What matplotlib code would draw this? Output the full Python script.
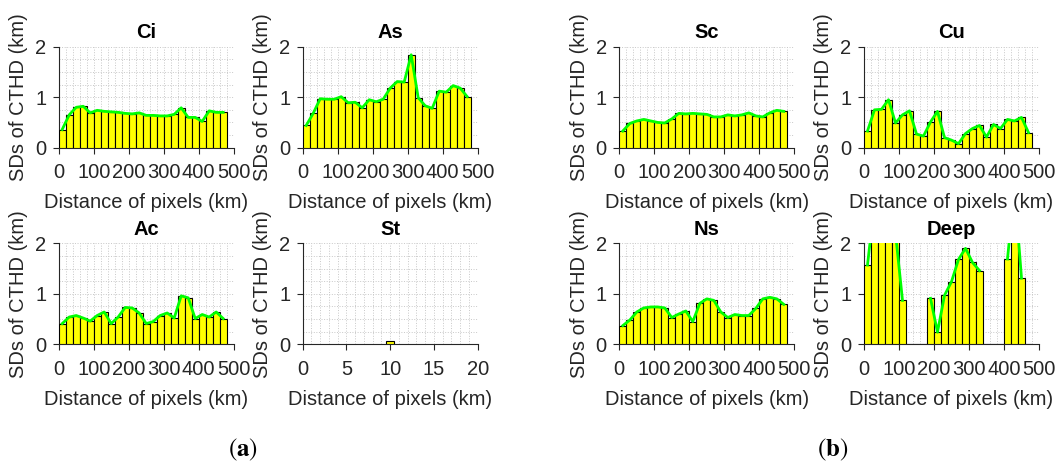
import numpy as np
import matplotlib.pyplot as plt
from matplotlib.ticker import MultipleLocator

plt.rcParams['font.family'] = ['Liberation Sans', 'DejaVu Sans']
plt.rcParams['mathtext.fontset'] = 'stix'

# bin centres (km)
dist = [10, 30, 50, 70, 90, 110, 130, 150, 170, 190, 210, 230,
        250, 270, 290, 310, 330, 350, 370, 390, 410, 430, 450, 470]

ci = [0.36, 0.65, 0.80, 0.82, 0.69, 0.74, 0.72, 0.71, 0.70, 0.68, 0.67, 0.69,
      0.64, 0.64, 0.63, 0.63, 0.66, 0.79, 0.60, 0.60, 0.52, 0.73, 0.70, 0.70]
as_ = [0.44, 0.68, 0.97, 0.96, 0.96, 1.01, 0.89, 0.90, 0.79, 0.95, 0.91, 0.96,
       1.18, 1.31, 1.30, 1.84, 0.99, 0.83, 0.78, 1.12, 1.10, 1.23, 1.18, 1.01]
ac = [0.41, 0.54, 0.57, 0.52, 0.46, 0.57, 0.64, 0.41, 0.54, 0.73, 0.72, 0.62,
      0.41, 0.45, 0.57, 0.62, 0.52, 0.96, 0.92, 0.51, 0.59, 0.54, 0.64, 0.51]
st_dist = [10]
st = [0.06]
sc = [0.33, 0.48, 0.53, 0.56, 0.53, 0.50, 0.49, 0.57, 0.68, 0.67, 0.68, 0.67,
      0.66, 0.61, 0.61, 0.65, 0.63, 0.65, 0.69, 0.63, 0.61, 0.69, 0.74, 0.72]
cu = [0.33, 0.75, 0.76, 0.95, 0.49, 0.65, 0.73, 0.27, 0.23, 0.51, 0.72, 0.20,
      0.15, 0.08, 0.28, 0.38, 0.44, 0.21, 0.46, 0.38, 0.56, 0.53, 0.60, 0.30]
ns = [0.37, 0.48, 0.64, 0.72, 0.74, 0.74, 0.72, 0.53, 0.60, 0.66, 0.45, 0.81,
      0.90, 0.87, 0.64, 0.53, 0.59, 0.57, 0.57, 0.71, 0.90, 0.93, 0.90, 0.79]
deep = [1.57, 2.80, 2.60, 2.40, 2.20, 0.87, 0, 0, 0, 0.91, 0.24, 0.97,
        1.24, 1.68, 1.90, 1.62, 1.46, 0, 0, 0, 1.69, 3.10, 1.31, 0]

W, H = 1060, 465
fig = plt.figure(figsize=(W / 100, H / 100), dpi=100)

# name, x, y, pixel box (left, top), xmax, bar width
panels = [
    ("Ci", dist, ci, (58.7, 46.7), 500, 20),
    ("As", dist, as_, (302.7, 46.7), 500, 20),
    ("Ac", dist, ac, (58.7, 243.3), 500, 20),
    ("St", st_dist, st, (302.7, 243.3), 20, 0.9),
    ("Sc", dist, sc, (619.3, 46.7), 500, 20),
    ("Cu", dist, cu, (864, 46.7), 500, 20),
    ("Ns", dist, ns, (619.3, 243.3), 500, 20),
    ("Deep", dist, deep, (864, 243.3), 500, 20),
]
aw, ah = 175, 101
dark = '#262626'

for name, x, y, (l, t), xmax, bw in panels:
    ax = fig.add_axes([l / W, 1 - (t + ah) / H, aw / W, ah / H])
    ax.bar(x, y, width=bw, color='#ffff00', edgecolor='black', linewidth=0.8, zorder=3)
    yl = np.array(y, dtype=float)
    yl[yl == 0] = np.nan
    ax.plot(x, yl, color='#00ff00', linewidth=2.0, zorder=4)
    ax.set_xlim(0, xmax)
    ax.set_ylim(0, 2)
    ax.set_yticks([0, 1, 2])
    if xmax == 20:
        ax.set_xticks([0, 5, 10, 15, 20])
        ax.xaxis.set_minor_locator(MultipleLocator(1))
    else:
        ax.set_xticks([0, 100, 200, 300, 400, 500])
        ax.xaxis.set_minor_locator(MultipleLocator(20))
    ax.yaxis.set_minor_locator(MultipleLocator(0.25))
    ax.grid(True, which='both', linestyle=':', color='#c8c8c8', linewidth=0.7, zorder=0)
    ax.set_axisbelow(True)
    for s in ['top', 'right']:
        ax.spines[s].set_visible(False)
    for s in ['left', 'bottom']:
        ax.spines[s].set_color(dark)
        ax.spines[s].set_linewidth(0.8)
    ax.tick_params(which='major', direction='out', length=4, width=0.8,
                   colors=dark, labelsize=14.5, pad=5)
    ax.tick_params(axis='x', which='major', pad=7)
    ax.tick_params(which='minor', length=0)
    ax.set_title(name, fontsize=14.5, fontweight='bold', pad=6)
    ax.set_xlabel("Distance of pixels (km)", fontsize=14.5, color=dark, labelpad=8)
    ax.set_ylabel("SDs of CTHD (km)", fontsize=14.5, color=dark, labelpad=5)

fig.text(243 / W, 1 - 450 / H, r"$(\mathbf{a})$", fontsize=18, ha='center', va='center')
fig.text(833 / W, 1 - 450 / H, r"$(\mathbf{b})$", fontsize=18, ha='center', va='center')

fig.savefig("out.png", dpi=100)
